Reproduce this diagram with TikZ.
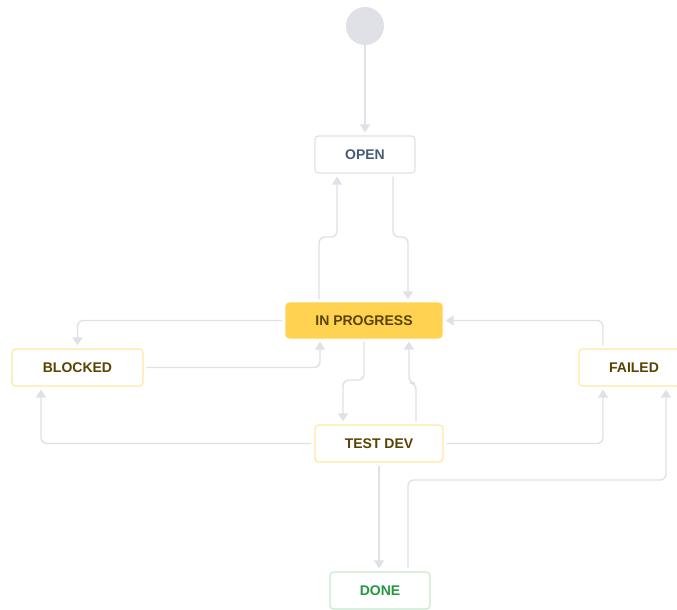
\documentclass[tikz,border=0pt]{standalone}
\usepackage{fontspec}
\setmainfont{Liberation Sans}
\usetikzlibrary{arrows.meta}

\definecolor{wire}{HTML}{DFE1E6}
\definecolor{startgray}{HTML}{DFE1E6}
\definecolor{openink}{HTML}{4A5A75}
\definecolor{openedge}{HTML}{DFE1E6}
\definecolor{warmink}{HTML}{594300}
\definecolor{warmedge}{HTML}{FFE7A3}
\definecolor{warmfill}{HTML}{FFD351}
\definecolor{doneink}{HTML}{25973F}
\definecolor{doneedge}{HTML}{C6E9CF}

\tikzset{
  state/.style={draw, line width=1.2pt, rounded corners=3.5pt, fill=white,
    minimum height=37pt, font=\fontsize{14}{16}\selectfont\bfseries, inner sep=0pt},
  todostate/.style={state, draw=openedge, text=openink},
  warmstate/.style={state, draw=warmedge, text=warmink},
  activestate/.style={state, draw=warmfill, fill=warmfill, text=warmink, minimum height=35pt},
  donestate/.style={state, draw=doneedge, text=doneink},
  conn/.style={draw=wire, line width=1.4pt, rounded corners=6pt,
    -{Triangle[width=10pt,length=8pt]}, shorten >=3pt, shorten <=3pt},
}

\begin{document}
\begin{tikzpicture}[x=1pt, y=-1pt]
  \useasboundingbox (0,0) rectangle (677,610);

  % states
  \node[circle, fill=startgray, minimum size=38pt, inner sep=0pt] (start) at (365,26) {};
  \node[todostate, minimum width=100pt] (open) at (365,154.5) {OPEN};
  \node[activestate, minimum width=156pt] (ip) at (364,320.5) {IN PROGRESS};
  \node[warmstate, minimum width=131pt] (blocked) at (77.5,367.5) {BLOCKED};
  \node[warmstate, minimum width=110pt] (failed) at (634,367.5) {FAILED};
  \node[warmstate, minimum width=128pt] (test) at (379,443.5) {TEST DEV};
  \node[donestate, minimum width=100pt] (done) at (380,590.5) {DONE};

  % bends of the stepped connectors
  \coordinate (j1) at (337,237);
  \coordinate (j2) at (408,237);
  \coordinate (j3) at (343,380);
  \coordinate (j4) at (409,383);
  \coordinate (j5) at (666,480);

  % transitions
  \draw[conn, shorten <=0pt] (start.south) -- (open.north);
  \draw[conn] ([xshift=-45pt]ip.north) |- (j1) -- ([xshift=-28pt]open.south);
  \draw[conn] ([xshift=28pt]open.south) |- (j2) -- ([xshift=44pt]ip.north);
  \draw[conn] (ip.west) -| (blocked.north);
  \draw[conn] (blocked.east) -| ([xshift=-44pt]ip.south);
  \draw[conn] (test.west) -| ([xshift=-36.5pt]blocked.south);
  \draw[conn] (ip.south) |- (j3) -- ([xshift=-36pt]test.north);
  \draw[conn] ([xshift=37pt]test.north) |- (j4) -- ([xshift=45pt]ip.south);
  \draw[conn] ([xshift=-31pt]failed.north) |- (ip.east);
  \draw[conn] (test.east) -| ([xshift=-31pt]failed.south);
  \draw[conn] (test.south) -- (test.south |- done.north);
  \draw[conn] ([xshift=28pt]done.north) |- (j5) -- ([xshift=32pt]failed.south);
\end{tikzpicture}
\end{document}
